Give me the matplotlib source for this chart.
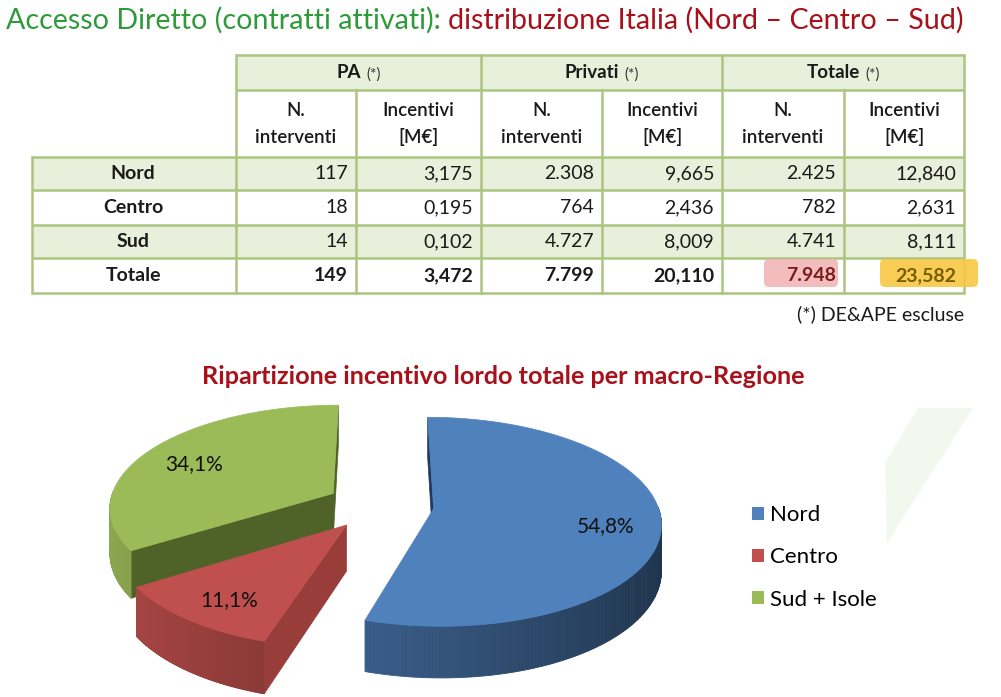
import numpy as np
import matplotlib.pyplot as plt
from matplotlib.colors import to_rgb
from matplotlib.patches import Polygon, Rectangle, FancyBboxPatch, Patch
from matplotlib.offsetbox import TextArea, HPacker, AnnotationBbox

plt.rcParams['font.family'] = ['Lato', 'DejaVu Sans']

# table data
row_labels = ['Nord', 'Centro', 'Sud', 'Totale']
groups = ['PA', 'Privati', 'Totale']
pa_n = [117, 18, 14, 149]
pa_inc = [3.175, 0.195, 0.102, 3.472]
priv_n = [2308, 764, 4727, 7799]
priv_inc = [9.665, 2.436, 8.009, 20.110]
tot_n = [2425, 782, 4741, 7948]
tot_inc = [12.840, 2.631, 8.111, 23.582]

# pie data
regions = ['Nord', 'Centro', 'Sud + Isole']
shares = [54.8, 11.1, 34.1]
pie_colors = ['#4F81BD', '#C0504D', '#9BBB59']
face_colors = ['#1F3A5F', '#983D3A', '#4F6228']


def fmt_int(n):
    return f'{n:,}'.replace(',', '.')


def fmt_dec(x):
    return f'{x:.3f}'.replace('.', ',')


fig = plt.figure(figsize=(10.01, 6.97), dpi=100)
ax = fig.add_axes([0, 0, 1, 1])
ax.set_xlim(0, 1001)
ax.set_ylim(697, 0)
ax.axis('off')

# faint background decoration
ax.add_patch(Polygon([(885, 463), (918, 408), (973, 408), (887, 543)],
                     closed=True, facecolor='#F3F8EF', edgecolor='none', zorder=0))

# title
t1 = ax.text(6, 20, 'Accesso Diretto (contratti attivati): ', color='#2E9A3A',
             fontsize=20.6, va='center', ha='left')
ax.annotate('distribuzione Italia (Nord \u2013 Centro \u2013 Sud)', xy=(1, 0.5), xycoords=t1,
            color='#A8101A', fontsize=20.6, va='center', ha='left')

# ---- table ----
col_x = [32, 236, 356, 481, 602, 722, 844, 964]
row_y = [55, 90, 157, 190, 225, 258, 293]
line_c = '#ABC480'
fill_c = '#E8EFDA'

ax.add_patch(Rectangle((236, 55), 964 - 236, 35, facecolor=fill_c, edgecolor='none'))
for i in range(4):
    if i % 2 == 0:
        ax.add_patch(Rectangle((32, row_y[i + 2]), 964 - 32, row_y[i + 3] - row_y[i + 2],
                               facecolor=fill_c, edgecolor='none'))

lw = 1.8
for y in row_y:
    x0 = 236 if y < 157 else 32
    ax.plot([x0, 964], [y, y], color=line_c, lw=lw, solid_capstyle='butt')
for x in col_x:
    if x == 32:
        ax.plot([x, x], [157, 293], color=line_c, lw=lw)
    elif x in (356, 602, 844):
        ax.plot([x, x], [90, 293], color=line_c, lw=lw)
    else:
        ax.plot([x, x], [55, 293], color=line_c, lw=lw)

fs = 14
txt_c = '#1a1a1a'
for g, name in enumerate(groups):
    cxg = (col_x[1 + 2 * g] + col_x[3 + 2 * g]) / 2
    box = HPacker(children=[TextArea(name, textprops=dict(fontsize=13.5, fontweight='bold', color=txt_c)),
                            TextArea('(*)', textprops=dict(fontsize=11, color='#333333'))],
                  sep=4, align='baseline', pad=0)
    ax.add_artist(AnnotationBbox(box, (cxg, 73), xycoords='data', frameon=False,
                                 box_alignment=(0.5, 0.5)))
    for k, lab in enumerate(['N.\ninterventi', 'Incentivi\n[M\u20ac]']):
        xc = (col_x[1 + 2 * g + k] + col_x[2 + 2 * g + k]) / 2
        ax.text(xc, 124, lab, ha='center', va='center', fontsize=13.5, fontweight='semibold',
                color=txt_c, linespacing=1.65)

cols = [pa_n, pa_inc, priv_n, priv_inc, tot_n, tot_inc]

# highlight boxes behind grand totals
ax.add_patch(FancyBboxPatch((764, 259), 74, 28, boxstyle='round,pad=0,rounding_size=5',
                            facecolor='#F3B2B2', edgecolor='none', alpha=0.85, zorder=3))
ax.add_patch(FancyBboxPatch((880, 259), 98, 28, boxstyle='round,pad=0,rounding_size=5',
                            facecolor='#F8C842', edgecolor='none', alpha=0.9, zorder=3))

for i, lab in enumerate(row_labels):
    yc = (row_y[i + 2] + row_y[i + 3]) / 2
    bold = lab == 'Totale'
    ax.text(133, yc, lab, ha='center', va='center', fontsize=fs, fontweight='bold', color=txt_c)
    for c, vals in enumerate(cols):
        s = fmt_int(vals[i]) if c % 2 == 0 else fmt_dec(vals[i])
        color = txt_c
        if bold and c == 4:
            color = '#7A1C1C'
        if bold and c == 5:
            color = '#7A5C00'
        ax.text(col_x[c + 2] - 8, yc, s, ha='right', va='center', fontsize=fs,
                fontweight='bold' if bold else 'normal', color=color, zorder=4)

ax.text(964, 314, '(*) DE&APE escluse', ha='right', va='center', fontsize=14, color=txt_c)

# ---- 3D pie ----
ax.text(503, 377, 'Ripartizione incentivo lordo totale per macro-Regione', ha='center',
        va='center', fontsize=18.2, fontweight='bold', color='#A8101A')

cx, cy = 380, 505          # screen position of pie centre
R, tilt, D = 224, 0.455, 1800.0   # radius, tilt, perspective distance
depth, explode = 45, 54


def proj(X, Y, dz=0.0):
    # ground coords (Y points away from viewer) -> screen pixels
    p = 1.0 / (1.0 + np.asarray(Y) / D)
    return cx + X * p, cy - Y * tilt * p + dz * p


def shade(col, f):
    return tuple(np.clip(np.array(to_rgb(col)) * f, 0, 1))


def signed_area(pts):
    x, y = np.array(pts).T
    return np.sum(x * np.roll(y, -1) - np.roll(x, -1) * y)


cum = np.concatenate([[0], np.cumsum(shares)])
wedges = []
for i in range(len(shares)):
    a1 = np.deg2rad(90 - 3.6 * cum[i])
    a2 = np.deg2rad(90 - 3.6 * cum[i + 1])
    mid = (a1 + a2) / 2
    ox, oy = explode * np.cos(mid), explode * np.sin(mid)
    wedges.append((i, a1, a2, mid, ox, oy))

# back to front
for i, a1, a2, mid, ox, oy in sorted(wedges, key=lambda w: -w[5]):
    z = 5 - oy / 1000
    col = pie_colors[i]
    # radial side faces, culled by screen orientation
    for ang, sign in ((a1, -1), (a2, 1)):
        ex, ey = ox + R * np.cos(ang), oy + R * np.sin(ang)
        quad = [proj(ox, oy), proj(ex, ey), proj(ex, ey, depth), proj(ox, oy, depth)]
        if signed_area(quad) * sign > 0:
            ax.add_patch(Polygon(quad, closed=True, facecolor=face_colors[i],
                                 edgecolor=face_colors[i], lw=0.5, zorder=z))
    # outer wall, front part only, shaded in strips
    t = np.linspace(a1, a2, 240)
    front = t[np.sin(t) < 0.02]
    for k in range(len(front) - 1):
        ta, tb = front[k], front[k + 1]
        Xa, Ya = ox + R * np.cos(ta), oy + R * np.sin(ta)
        Xb, Yb = ox + R * np.cos(tb), oy + R * np.sin(tb)
        c = shade(col, 0.65 - 0.25 * np.cos((ta + tb) / 2))
        ax.add_patch(Polygon([proj(Xa, Ya), proj(Xb, Yb), proj(Xb, Yb, depth), proj(Xa, Ya, depth)],
                             closed=True, facecolor=c, edgecolor=c, lw=0.6, zorder=z))
    # top face
    X = np.r_[ox, ox + R * np.cos(t)]
    Y = np.r_[oy, oy + R * np.sin(t)]
    xs, ys = proj(X, Y)
    ax.add_patch(Polygon(np.column_stack([xs, ys]), closed=True,
                         facecolor=col, edgecolor=col, lw=0.5, zorder=z + 0.0005))
    lx, ly = proj(ox + 0.76 * R * np.cos(mid), oy + 0.76 * R * np.sin(mid))
    ax.text(lx, ly + 5, f'{shares[i]:.1f}%'.replace('.', ','), ha='center', va='center',
            fontsize=15, color='#111111', zorder=9)

handles = [Patch(facecolor=c, edgecolor='none') for c in pie_colors]
ax.legend(handles, regions, loc='upper left', bbox_to_anchor=(741, 494), bbox_transform=ax.transData,
          frameon=False, fontsize=16, handlelength=0.55, handleheight=0.55, handletextpad=0.25,
          labelspacing=1.0, borderpad=0)

fig.savefig('out.png', dpi=100)
